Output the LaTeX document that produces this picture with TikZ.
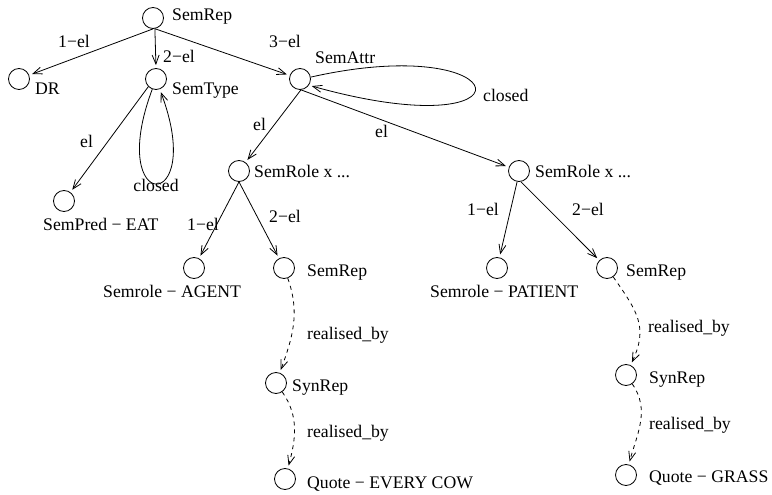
\documentclass[tikz,border=0pt]{standalone}
\usepackage{fontspec}
\setmainfont{Liberation Serif}
\usepackage{tikz}
\usetikzlibrary{arrows.meta}
\newcommand{\lbfont}{\fontsize{17.7bp}{20bp}\selectfont}

\begin{document}
\begin{tikzpicture}[x=1bp, y=1bp,
  state/.style={circle, draw, minimum size=21bp, inner sep=0pt, line width=0.8bp},
  lbl/.style={font=\lbfont, inner sep=0pt, anchor=base west},
  arr/.style={-{Straight Barb[length=9bp,width=7bp]}, line width=0.8bp, shorten >=3bp},
  dasharr/.style={arr, dash pattern=on 4bp off 4bp}]
  \useasboundingbox (0,0) rectangle (772,-495);
  % circles
  \node[state] (semrep) at (153,-18) {};
  \node[state] (dr) at (19,-79) {};
  \node[state] (semtype) at (156,-79) {};
  \node[state] (semattr) at (300,-79) {};
  \node[state] (sempred) at (64,-201) {};
  \node[state] (roleA) at (239,-171) {};
  \node[state] (roleB) at (519,-171) {};
  \node[state] (agent) at (194,-268) {};
  \node[state] (semrepA) at (284,-268) {};
  \node[state] (patient) at (497,-268) {};
  \node[state] (semrepB) at (607,-268) {};
  \node[state] (synrepA) at (276,-383) {};
  \node[state] (quoteA) at (285,-479) {};
  \node[state] (synrepB) at (626,-375) {};
  \node[state] (quoteB) at (626,-475) {};
  % names
  \node[lbl] (t-semrep) at (172,-21) {SemRep};
  \node[lbl] (t-dr) at (35,-95) {DR};
  \node[lbl] (t-semtype) at (172,-95) {SemType};
  \node[lbl] (t-semattr) at (315,-64) {SemAttr};
  \node[lbl] (t-sempred) at (43,-231) {SemPred − EAT};
  \node[lbl] (t-roleA) at (254,-178) {SemRole x ...};
  \node[lbl] (t-roleB) at (535,-178) {SemRole x ...};
  \node[lbl] (t-agent) at (103,-298) {Semrole − AGENT};
  \node[lbl] (t-semrepA) at (307,-277) {SemRep};
  \node[lbl] (t-patient) at (430,-298) {Semrole − PATIENT};
  \node[lbl] (t-semrepB) at (626,-277) {SemRep};
  \node[lbl] (t-synrepA) at (292,-391) {SynRep};
  \node[lbl] (t-quoteA) at (307,-488) {Quote − EVERY COW};
  \node[lbl] (t-synrepB) at (649,-383) {SynRep};
  \node[lbl] (t-quoteB) at (649,-482) {Quote − GRASS};
  % edges
  \draw[arr] (semrep.south) -- (dr);
  \draw[arr] (semrep.-80) -- (semtype.north);
  \draw[arr] (semrep.-80) -- (semattr);
  \draw[arr] (semtype.225) -- (sempred);
  \draw[arr] (semtype.250) .. controls (105,-215) and (207,-215) .. (semtype.290);
  \draw[arr] (semattr.10) .. controls (520,-30) and (540,-150) .. (semattr.-35);
  \draw[arr] (semattr.-85) -- (roleA);
  \draw[arr] (semattr.-85) -- (roleB);
  \draw[arr] (roleA.south) -- (agent);
  \draw[arr] (roleA.south) -- (semrepA);
  \draw[arr] (roleB.-100) -- (patient);
  \draw[arr] (roleB.-80) -- (semrepB);
  \draw[dasharr] (semrepA) to[out=-70, in=70] (synrepA);
  \draw[dasharr] (synrepA) to[out=-55, in=75] (quoteA);
  \draw[dasharr] (semrepB) to[out=-55, in=65, looseness=1.2] (synrepB);
  \draw[dasharr] (synrepB) to[out=-55, in=75] (quoteB);
  % edge labels
  \node[lbl] (e-1el) at (58,-48) {1−el};
  \node[lbl] (e-2el) at (163,-63) {2−el};
  \node[lbl] (e-3el) at (269,-48) {3−el};
  \node[lbl] (e-elpred) at (80,-148) {el};
  \node[lbl, anchor=base] (e-closed1) at (156,-192) {closed};
  \node[lbl] (e-closed2) at (483,-102) {closed};
  \node[lbl] (e-elA) at (253,-131) {el};
  \node[lbl] (e-elB) at (375,-138) {el};
  \node[lbl] (e-1elA) at (187,-231) {1−el};
  \node[lbl] (e-2elA) at (269,-223) {2−el};
  \node[lbl] (e-1elB) at (467,-216) {1−el};
  \node[lbl] (e-2elB) at (572,-216) {2−el};
  \node[lbl] (e-realA1) at (307,-339) {realised\_by};
  \node[lbl] (e-realA2) at (307,-437) {realised\_by};
  \node[lbl] (e-realB1) at (648,-332) {realised\_by};
  \node[lbl] (e-realB2) at (649,-429) {realised\_by};
\end{tikzpicture}
\end{document}
